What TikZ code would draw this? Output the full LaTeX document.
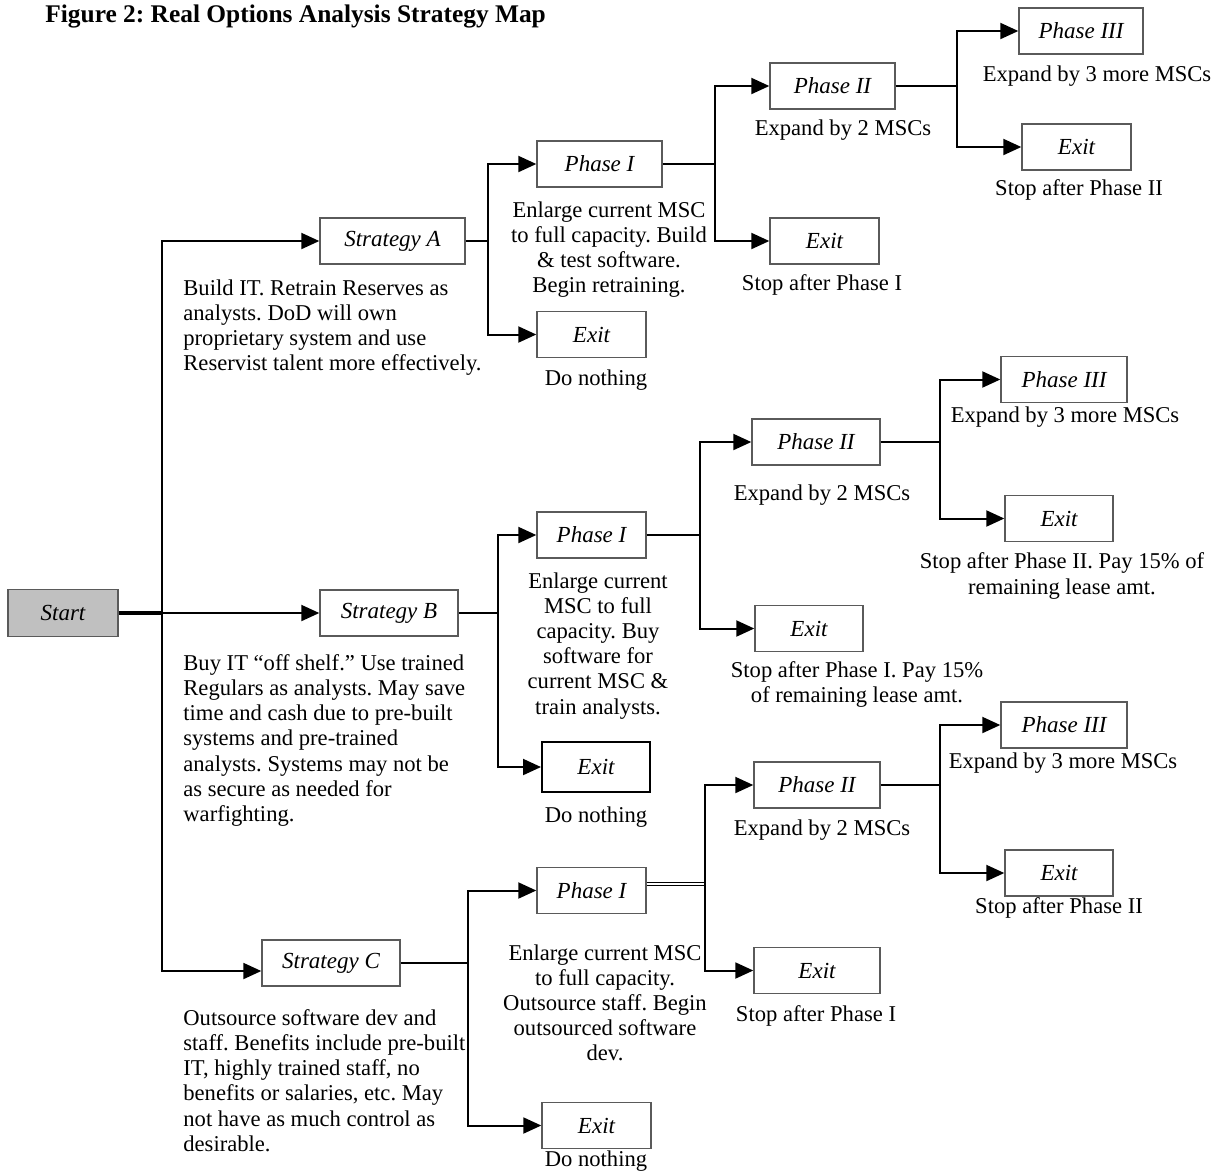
\documentclass[tikz,border=0pt]{standalone}
\usepackage{fontspec}
\setmainfont{Liberation Serif}
\usetikzlibrary{arrows.meta}
\definecolor{boxgray}{HTML}{5A5A5A}
\definecolor{startfill}{HTML}{C0C0C0}
\frenchspacing
\begin{document}
\frenchspacing
\begin{tikzpicture}[x=0.5pt,y=-0.5pt,
  box/.style={draw=boxgray, line width=0.7pt, minimum height=23pt, inner sep=0pt, font=\fontsize{11.5}{12.5}\selectfont\itshape},
  desc/.style={inner sep=0pt, font=\fontsize{11.3}{12.6}\selectfont},
  conn/.style={line width=1pt},
  startline/.style={line width=1.6pt},
  dbl/.style={double, double distance=1pt, line width=0.6pt},
  arr/.style={line width=1pt, -{Triangle[length=9pt,width=8pt]}},
]
\useasboundingbox (0,0) rectangle (1219,1174);

\node[anchor=base west, inner sep=0pt, font=\fontsize{12.7}{14}\selectfont\bfseries] (title) at (45,22) {Figure 2: Real Options Analysis Strategy Map};

% boxes
\node[box, fill=startfill, minimum width=55pt, minimum height=23.5pt] (start) at (63,613) {Start};

\node[box, minimum width=72.5pt] (sA) at (392.5,241) {Strategy A};
\node[box, minimum width=62.5pt] (aP1) at (599.5,164) {Phase I};
\node[box, minimum width=54.5pt] (aEx) at (591.5,334.5) {Exit};
\node[box, minimum width=62.5pt] (aP2) at (832.5,86) {Phase II};
\node[box, minimum width=54.5pt] (aEx1) at (824.5,241) {Exit};
\node[box, minimum width=62pt] (aP3) at (1081,31) {Phase III};
\node[box, minimum width=54.5pt] (aEx2) at (1076.5,147) {Exit};

\node[box, minimum width=69pt] (sB) at (389,613) {Strategy B};
\node[box, minimum width=54.5pt] (bP1) at (591.5,535) {Phase I};
\node[box, minimum width=54pt, minimum height=25pt, draw=black, line width=1pt] (bEx) at (596,767) {Exit};
\node[box, minimum width=64pt] (bP2) at (816,442) {Phase II};
\node[box, minimum width=54pt] (bEx1) at (809,628.5) {Exit};
\node[box, minimum width=63pt] (bP3) at (1064,379.5) {Phase III};
\node[box, minimum width=54pt] (bEx2) at (1059,518.5) {Exit};

\node[box, minimum width=69pt] (sC) at (331,963) {Strategy C};
\node[box, minimum width=54.5pt] (cP1) at (591.5,890.5) {Phase I};
\node[box, minimum width=54.5pt] (cEx) at (596.5,1125.5) {Exit};
\node[box, minimum width=63pt] (cP2) at (817,785) {Phase II};
\node[box, minimum width=63pt] (cEx1) at (817,970.5) {Exit};
\node[box, minimum width=63pt] (cP3) at (1064,725) {Phase III};
\node[box, minimum width=54pt] (cEx2) at (1059,873) {Exit};

% joints
\coordinate (j0) at (162,613);
\coordinate (jA) at (488,241);
\coordinate (jA1) at (715,164);
\coordinate (jA2) at (957,86);
\coordinate (jB) at (498,613);
\coordinate (jB1) at (700,535);
\coordinate (jB2) at (940,442);
\coordinate (jC) at (468,963);
\coordinate (jC1) at (705,884);
\coordinate (jC2) at (940,785);

% connectors
\draw[startline] (start.east) -- (j0);
\draw[arr] (j0) |- (sA.west);
\draw[arr] (j0) -- (sB.west);
\draw[arr] (j0) |- ([yshift=-4pt]sC.west);

\draw[conn] (sA.east) -- (jA);
\draw[arr] (jA) |- (aP1.west);
\draw[arr] (jA) |- (aEx.west);
\draw[conn] (aP1.east) -- (jA1);
\draw[arr] (jA1) |- (aP2.west);
\draw[arr] (jA1) |- (aEx1.west);
\draw[conn] (aP2.east) -- (jA2);
\draw[arr] (jA2) |- (aP3.west);
\draw[arr] (jA2) |- (aEx2.west);

\draw[conn] (sB.east) -- (jB);
\draw[arr] (jB) |- (bP1.west);
\draw[arr] (jB) |- (bEx.west);
\draw[conn] (bP1.east) -- (jB1);
\draw[arr] (jB1) |- (bP2.west);
\draw[arr] (jB1) |- (bEx1.west);
\draw[conn] (bP2.east) -- (jB2);
\draw[arr] (jB2) |- (bP3.west);
\draw[arr] (jB2) |- (bEx2.west);

\draw[conn] (sC.east) -- (jC);
\draw[arr] (jC) |- (cP1.west);
\draw[arr] (jC) |- (cEx.west);
\draw[dbl] (cP1.east |- jC1) -- (jC1);
\draw[arr] (jC1) |- (cP2.west);
\draw[arr] (jC1) |- (cEx1.west);
\draw[conn] (cP2.east) -- (jC2);
\draw[arr] (jC2) |- (cP3.west);
\draw[arr] (jC2) |- (cEx2.west);

% texts A
\node[desc, anchor=north west, align=left] (tA) at (183,279) {Build IT. Retrain Reserves as\\analysts. DoD will own\\proprietary system and use\\Reservist talent more effectively.};
\node[desc, anchor=north, align=center] (tAP1) at (609,201) {Enlarge current MSC\\to full capacity. Build\\\& test software.\\Begin retraining.};
\node[desc] (tAEx) at (596,380) {Do nothing};
\node[desc] (tAP2) at (843,130) {Expand by 2 MSCs};
\node[desc] (tAEx1) at (822,285) {Stop after Phase I};
\node[desc] (tAP3) at (1097,76) {Expand by 3 more MSCs};
\node[desc] (tAEx2) at (1079,190) {Stop after Phase II};

% texts B
\node[desc, anchor=north west, align=left] (tB) at (183,654) {Buy IT “off shelf.” Use trained\\Regulars as analysts. May save\\time and cash due to pre-built\\systems and pre-trained\\analysts. Systems may not be\\as secure as needed for\\warfighting.};
\node[desc, anchor=north, align=center] (tBP1) at (598,572) {Enlarge current\\MSC to full\\capacity. Buy\\software for\\current MSC \&\\train analysts.};
\node[desc] (tBEx) at (596,817) {Do nothing};
\node[desc] (tBP2) at (822,495) {Expand by 2 MSCs};
\node[desc, align=center] (tBEx1) at (857,684.5) {Stop after Phase I. Pay 15\%\\of remaining lease amt.};
\node[desc] (tBP3) at (1065,417) {Expand by 3 more MSCs};
\node[desc, align=center] (tBEx2) at (1062,576) {Stop after Phase II. Pay 15\% of\\remaining lease amt.};

% texts C
\node[desc, anchor=north west, align=left] (tC) at (183,1009) {Outsource software dev and\\staff. Benefits include pre-built\\IT, highly trained staff, no\\benefits or salaries, etc. May\\not have as much control as\\desirable.};
\node[desc, anchor=north, align=center] (tCP1) at (605,944) {Enlarge current MSC\\to full capacity.\\Outsource staff. Begin\\outsourced software\\dev.};
\node[desc] (tCEx) at (596,1161) {Do nothing};
\node[desc] (tCP2) at (822,830) {Expand by 2 MSCs};
\node[desc] (tCEx1) at (816,1016) {Stop after Phase I};
\node[desc] (tCP3) at (1063,763) {Expand by 3 more MSCs};
\node[desc] (tCEx2) at (1059,908) {Stop after Phase II};
\end{tikzpicture}
\end{document}
